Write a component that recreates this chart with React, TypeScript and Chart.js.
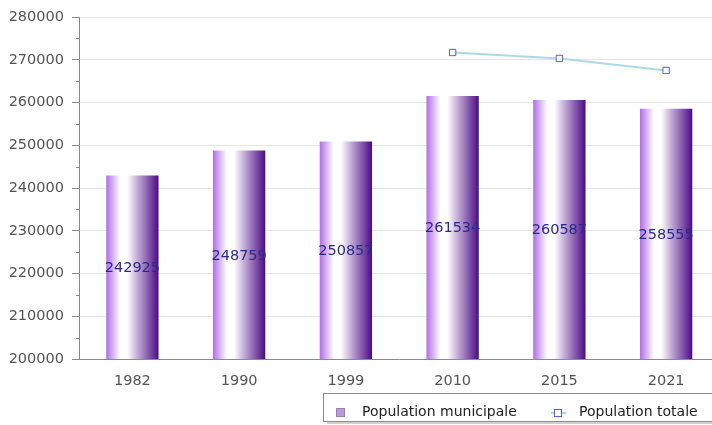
import React, { useEffect, useRef } from "react";
import { Chart, registerables } from "chart.js";

Chart.register(...registerables);

const years = ["1982", "1990", "1999", "2010", "2015", "2021"];
const municipale = [242925, 248759, 250857, 261534, 260587, 258555];
const totale = [null, null, null, 271700, 270300, 267500];
const yMin = 200000;
const yMax = 280000;
const yMajorStep = 10000;
const yMinorStep = 5000;
const seriesNames = ["Population municipale", "Population totale"];

const FONT = "DejaVu Sans";
const FSIZE = 14.5;
const BAR_PCT = 0.49;

const barLabels = {
  id: "barLabels",
  afterDraw(chart: any) {
    const xs = chart.scales.x;
    const ys = chart.scales.y;
    const ctx = chart.ctx;
    ctx.save();
    ctx.font = `${FSIZE}px "${FONT}"`;
    ctx.fillStyle = "#2a2a8e";
    ctx.textAlign = "center";
    ctx.textBaseline = "middle";
    municipale.forEach((v: number, i: number) => {
      const x = xs.getPixelForValue(i);
      const yTop = ys.getPixelForValue(v);
      const yBase = ys.getPixelForValue(yMin);
      ctx.fillText(String(v), x, (yTop + yBase) / 2 + 1);
    });
    ctx.restore();
  },
};

const minorTicks = {
  id: "minorTicks",
  afterDraw(chart: any) {
    const ys = chart.scales.y;
    const ctx = chart.ctx;
    ctx.save();
    ctx.strokeStyle = "#8a8a8a";
    ctx.lineWidth = 1;
    for (let v = yMin + yMinorStep; v < yMax; v += yMajorStep) {
      const y = Math.round(ys.getPixelForValue(v)) + 0.5;
      ctx.beginPath();
      ctx.moveTo(ys.right - 3, y);
      ctx.lineTo(ys.right, y);
      ctx.stroke();
    }
    ctx.restore();
  },
};

const boxLegend = {
  id: "boxLegend",
  afterDraw(chart: any) {
    const ctx = chart.ctx;
    ctx.save();
    ctx.fillStyle = "#d0d0d0";
    ctx.fillRect(327, 422, 420, 2);
    ctx.fillStyle = "#ffffff";
    ctx.fillRect(323.5, 393.5, 420, 28);
    ctx.strokeStyle = "#8c8c8c";
    ctx.lineWidth = 1;
    ctx.strokeRect(323.5, 393.5, 420, 28);
    ctx.fillStyle = "#b99ad6";
    ctx.fillRect(336, 408, 9, 9);
    ctx.strokeStyle = "#9c7cbf";
    ctx.strokeRect(336.5, 408.5, 8, 8);
    ctx.strokeStyle = "#add8e6";
    ctx.lineWidth = 2;
    ctx.beginPath();
    ctx.moveTo(551, 413);
    ctx.lineTo(566, 413);
    ctx.stroke();
    ctx.fillStyle = "#ffffff";
    ctx.fillRect(554.5, 409.5, 7, 7);
    ctx.strokeStyle = "#5a5aff";
    ctx.lineWidth = 1;
    ctx.strokeRect(554.5, 409.5, 7, 7);
    ctx.fillStyle = "#222222";
    ctx.font = `14px "${FONT}"`;
    ctx.textAlign = "left";
    ctx.textBaseline = "middle";
    ctx.fillText(seriesNames[0], 362, 412);
    ctx.fillText(seriesNames[1], 579, 412);
    ctx.restore();
  },
};

function barGradient(c: any) {
  const chart = c.chart;
  const xs = chart.scales && chart.scales.x;
  if (!xs || c.type !== "data" || !xs.width) return "#9a6ccc";
  const cx = xs.getPixelForValue(c.dataIndex);
  const w = (xs.width / years.length) * BAR_PCT;
  const g = chart.ctx.createLinearGradient(cx - w / 2, 0, cx + w / 2, 0);
  g.addColorStop(0, "#b06ee6");
  g.addColorStop(0.27, "#ffffff");
  g.addColorStop(0.4, "#ffffff");
  g.addColorStop(0.62, "#bba3d2");
  g.addColorStop(1, "#4c0a86");
  return g;
}

export default function App() {
  const ref = useRef<HTMLCanvasElement | null>(null);

  useEffect(() => {
    if (!ref.current) return;
    const chart = new Chart(ref.current, {
      type: "bar",
      data: {
        labels: years,
        datasets: [
          {
            type: "line",
            label: seriesNames[1],
            data: totale as any,
            borderColor: "#add8e6",
            borderWidth: 2,
            pointStyle: "rect",
            pointRadius: 4.5,
            pointBorderColor: "#5a5aff",
            pointBackgroundColor: "#ffffff",
            pointBorderWidth: 1,
            spanGaps: false,
            order: 0,
          } as any,
          {
            type: "bar",
            label: seriesNames[0],
            data: municipale,
            backgroundColor: barGradient as any,
            borderWidth: 0,
            barPercentage: BAR_PCT,
            categoryPercentage: 1,
            order: 1,
          } as any,
        ],
      },
      options: {
        responsive: false,
        animation: false,
        layout: { padding: { left: 8, top: 17, right: 1, bottom: 36 } },
        plugins: {
          legend: { display: false },
          tooltip: { enabled: false },
        },
        scales: {
          x: {
            offset: true,
            grid: { display: false, drawTicks: false },
            border: { display: true, color: "#8a8a8a" },
            ticks: {
              color: "#555555",
              font: { family: FONT, size: FSIZE },
              padding: 14,
              maxRotation: 0,
            },
            afterFit: (s: any) => {
              s.height = 30;
            },
          },
          y: {
            min: yMin,
            max: yMax,
            border: { display: true, color: "#8a8a8a" },
            grid: {
              color: (c: any) =>
                c.tick && c.tick.value % yMajorStep === 0 ? "#e6e6e6" : "rgba(0,0,0,0)",
              tickColor: "#8a8a8a",
              tickLength: 7,
              drawTicks: true,
            },
            ticks: {
              stepSize: yMajorStep,
              color: "#555555",
              font: { family: FONT, size: FSIZE },
              padding: 8,
              callback: (v: any) => String(v),
            },
            afterFit: (s: any) => {
              s.width = 71;
            },
          },
        },
      },
      plugins: [barLabels, minorTicks, boxLegend],
    });
    return () => chart.destroy();
  }, []);

  return (
    <div
      style={{
        position: "fixed",
        left: 0,
        top: 0,
        width: 712,
        height: 425,
        overflow: "hidden",
        background: "#ffffff",
      }}
    >
      <canvas ref={ref} width={725} height={425} style={{ display: "block" }} />
    </div>
  );
}
